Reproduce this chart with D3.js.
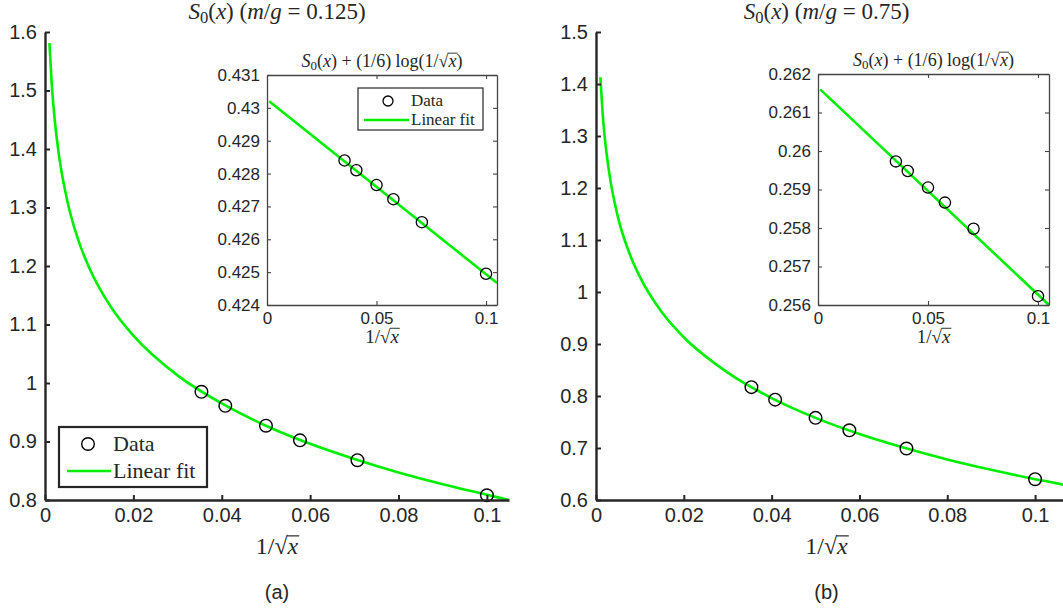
<!DOCTYPE html>
<html>
<head>
<meta charset="utf-8">
<script src="https://cdn.jsdelivr.net/npm/d3@7"></script>
<style>
  body { margin: 0; background: #fff; }
  svg { display: block; }
</style>
</head>
<body>
<div id="chart"></div>
<script>
// 1/sqrt(x) for x = 800, 600, 400, 300, 200, 100
var invSqrt = [0.0354, 0.0408, 0.05, 0.0577, 0.0707, 0.1];

// main panels: S0(x)
var s0A = [0.985, 0.961, 0.927, 0.902, 0.868, 0.808];
var s0B = [0.817, 0.793, 0.758, 0.734, 0.699, 0.640];

// insets: S0(x) + (1/6) log(1/sqrt(x))
var insetA = [0.4284, 0.4281, 0.42765, 0.42722, 0.42652, 0.42495];
var insetB = [0.25973, 0.25948, 0.25905, 0.25866, 0.25798, 0.25623];

// fit curve
var fitT = [0.001, 0.0015, 0.002, 0.003, 0.005, 0.0075, 0.01, 0.015, 0.02, 0.03, 0.04, 0.05, 0.06, 0.07, 0.08, 0.09, 0.1, 0.105, 0.107];
var fitA = [1.581, 1.514, 1.466, 1.398, 1.313, 1.245, 1.197, 1.129, 1.081, 1.013, 0.965, 0.927, 0.896, 0.870, 0.847, 0.827, 0.809, 0.800, 0.797];
var fitB = [1.413, 1.345, 1.297, 1.230, 1.144, 1.077, 1.029, 0.961, 0.913, 0.845, 0.796, 0.758, 0.727, 0.701, 0.678, 0.658, 0.640, 0.632, 0.628];

// inset fit lines (straight)
var insetFitT = [0.001, 0.105];
var insetFitA = [0.43020, 0.42467];
var insetFitB = [0.26160, 0.25600];

// ticks
var mainXTicks = [0, 0.02, 0.04, 0.06, 0.08, 0.1];
var mainYTicksA = [0.8, 0.9, 1, 1.1, 1.2, 1.3, 1.4, 1.5, 1.6];
var mainYTicksB = [0.6, 0.7, 0.8, 0.9, 1, 1.1, 1.2, 1.3, 1.4, 1.5];
var insetXTicks = [0, 0.05, 0.1];
var insetYTicksA = [0.424, 0.425, 0.426, 0.427, 0.428, 0.429, 0.43, 0.431];
var insetYTicksB = [0.256, 0.257, 0.258, 0.259, 0.26, 0.261, 0.262];

var titles = ["m/g = 0.125", "m/g = 0.75"];
var captions = ["(a)", "(b)"];

var W = 1063, H = 609;
var GREEN = "#00ee00", AXIS = "#262626";
var SANS = "'Liberation Sans', Arial, sans-serif";
var SERIF = "'Liberation Serif', 'Times New Roman', serif";

var svg = d3.select("#chart").append("svg")
  .attr("width", W).attr("height", H)
  .style("font-family", SANS);

svg.append("defs").append("clipPath").attr("id", "page")
  .append("rect").attr("width", W).attr("height", H);

// math-ish text built from tspans
function mathText(g, x, y, size, parts) {
  var t = g.append("text")
    .attr("x", x).attr("y", y)
    .attr("text-anchor", "middle")
    .style("font-family", SERIF)
    .style("font-size", size + "px")
    .attr("fill", AXIS);
  parts.forEach(function(p) {
    var s = t.append("tspan").text(p.t);
    if (p.i) s.style("font-style", "italic");
    if (p.sub) s.attr("baseline-shift", "-25%").style("font-size", (size * 0.72) + "px");
  });
  return t;
}

// overline of a square root: from the end of char i (the √) over char i+1
function sqrtBar(g, t, i, size) {
  var n = t.node();
  var r = n.getExtentOfChar(i), xr = n.getExtentOfChar(i + 1);
  g.append("line")
    .attr("x1", r.x + r.width - 0.5).attr("x2", xr.x + xr.width + 1)
    .attr("y1", r.y + size * 0.12).attr("y2", r.y + size * 0.12)
    .attr("stroke", AXIS).attr("stroke-width", size * 0.05);
}

function sqrtLabel(g, x, y, size) {
  var t = mathText(g, x, y, size, [{t: "1/√"}, {t: "x", i: true}]);
  sqrtBar(g, t, 2, size);
}

function insetTitle(g, x, y, size) {
  var t = mathText(g, x, y, size, [
    {t: "S", i: true}, {t: "0", sub: true}, {t: "("}, {t: "x", i: true},
    {t: ") + (1/6) log(1/√"}, {t: "x", i: true}, {t: ")"}
  ]);
  var s = t.node().getNumberOfChars();
  sqrtBar(g, t, s - 3, size);
}

function panel(opt) {
  var g = svg.append("g").attr("clip-path", "url(#page)");

  var x = d3.scaleLinear().domain(opt.xDomain).range(opt.xRange);
  var y = d3.scaleLinear().domain(opt.yDomain).range([500, 32]);

  // fit curve
  var line = d3.line()
    .x(function(d) { return x(d[0]); })
    .y(function(d) { return y(d[1]); })
    .curve(d3.curveMonotoneX);
  g.append("path")
    .datum(d3.zip(fitT, opt.fit).filter(function(d) { return d[0] <= opt.fitMax; }))
    .attr("d", line)
    .attr("fill", "none").attr("stroke", GREEN).attr("stroke-width", 2.6);

  // data markers
  g.selectAll("circle.data")
    .data(d3.zip(invSqrt, opt.data))
    .enter().append("circle")
    .attr("class", "data")
    .attr("cx", function(d) { return x(d[0]); })
    .attr("cy", function(d) { return y(d[1]); })
    .attr("r", 6.3)
    .attr("fill", "none").attr("stroke", "#000").attr("stroke-width", 1.4);

  // axes
  var fmt = function(d) { return String(d); };
  var xa = g.append("g")
    .attr("transform", "translate(0,500)")
    .call(d3.axisBottom(x).tickValues(mainXTicks).tickSize(-5).tickSizeOuter(0).tickPadding(8).tickFormat(fmt));
  var ya = g.append("g")
    .attr("transform", "translate(" + opt.xRange[0] + ",0)")
    .call(d3.axisLeft(y).tickValues(opt.yTicks).tickSize(-5).tickSizeOuter(0).tickPadding(8).tickFormat(fmt));
  [xa, ya].forEach(function(a) {
    a.select(".domain").attr("stroke", AXIS).attr("stroke-width", 2.4);
    a.selectAll(".tick line").attr("stroke", AXIS).attr("stroke-width", 2);
    a.selectAll(".tick text").attr("fill", AXIS).style("font-family", SANS).style("font-size", "20px");
  });

  // title, axis label, caption
  var cx = (opt.xRange[0] + x(0.105)) / 2;
  mathText(g, cx, 19, 23, [
    {t: "S", i: true}, {t: "0", sub: true}, {t: "("}, {t: "x", i: true}, {t: ") ("},
    {t: "m", i: true}, {t: "/"}, {t: "g", i: true}, {t: opt.title.slice(3) + ")"}
  ]);
  sqrtLabel(g, cx, 554, 24);
  g.append("text")
    .attr("x", cx).attr("y", 599)
    .attr("text-anchor", "middle")
    .style("font-size", "20px").attr("fill", AXIS)
    .text(opt.caption);

  // legend
  if (opt.legend) {
    var L = opt.legend;
    g.append("rect")
      .attr("x", L.x).attr("y", L.y).attr("width", L.w).attr("height", L.h)
      .attr("fill", "#fff").attr("stroke", AXIS).attr("stroke-width", 2.2);
    g.append("circle").attr("cx", L.x + 29).attr("cy", L.y + 17).attr("r", 6.3)
      .attr("fill", "none").attr("stroke", "#000").attr("stroke-width", 1.4);
    g.append("line").attr("x1", L.x + 8).attr("x2", L.x + 52)
      .attr("y1", L.y + 44).attr("y2", L.y + 44)
      .attr("stroke", GREEN).attr("stroke-width", 2.6);
    g.append("text").attr("x", L.x + 54).attr("y", L.y + 24)
      .style("font-family", SERIF).style("font-size", "22px").attr("fill", AXIS).text("Data");
    g.append("text").attr("x", L.x + 54).attr("y", L.y + 51)
      .style("font-family", SERIF).style("font-size", "22px").attr("fill", AXIS).text("Linear fit");
  }

  // inset
  var I = opt.inset;
  var ig = g.append("g");
  var ix = d3.scaleLinear().domain([0, 0.105]).range([I.left, I.right]);
  var iy = d3.scaleLinear().domain(I.yDomain).range([I.bottom, I.top]);
  ig.append("rect")
    .attr("x", I.left).attr("y", I.top)
    .attr("width", I.right - I.left).attr("height", I.bottom - I.top)
    .attr("fill", "#fff");

  ig.append("path")
    .datum(d3.zip(insetFitT, I.fit))
    .attr("d", d3.line().x(function(d) { return ix(d[0]); }).y(function(d) { return iy(d[1]); }))
    .attr("fill", "none").attr("stroke", GREEN).attr("stroke-width", 2.6);

  ig.selectAll("circle.data")
    .data(d3.zip(invSqrt, I.data))
    .enter().append("circle")
    .attr("class", "data")
    .attr("cx", function(d) { return ix(d[0]); })
    .attr("cy", function(d) { return iy(d[1]); })
    .attr("r", 5.6)
    .attr("fill", "none").attr("stroke", "#000").attr("stroke-width", 1.3);

  var axes = [
    ig.append("g").attr("transform", "translate(0," + I.bottom + ")")
      .call(d3.axisBottom(ix).tickValues(insetXTicks).tickSize(-4).tickSizeOuter(0).tickPadding(7).tickFormat(fmt)),
    ig.append("g").attr("transform", "translate(0," + I.top + ")")
      .call(d3.axisTop(ix).tickValues(insetXTicks).tickSize(-4).tickSizeOuter(0).tickFormat("")),
    ig.append("g").attr("transform", "translate(" + I.left + ",0)")
      .call(d3.axisLeft(iy).tickValues(I.yTicks).tickSize(-4).tickSizeOuter(0).tickPadding(7).tickFormat(fmt)),
    ig.append("g").attr("transform", "translate(" + I.right + ",0)")
      .call(d3.axisRight(iy).tickValues(I.yTicks).tickSize(-4).tickSizeOuter(0).tickFormat(""))
  ];
  axes.forEach(function(a) {
    a.select(".domain").attr("stroke", "#444").attr("stroke-width", 1.3);
    a.selectAll(".tick line").attr("stroke", "#444").attr("stroke-width", 1.1);
    a.selectAll(".tick text").attr("fill", AXIS).style("font-family", SANS).style("font-size", "17px");
  });

  var icx = (I.left + I.right) / 2;
  insetTitle(ig, icx, I.top - 8, 18);
  sqrtLabel(ig, icx, I.bottom + 38, 19);

  if (I.legend) {
    var l = I.legend;
    ig.append("rect")
      .attr("x", l.x).attr("y", l.y).attr("width", l.w).attr("height", l.h)
      .attr("fill", "#fff").attr("stroke", AXIS).attr("stroke-width", 1.2);
    ig.append("circle").attr("cx", l.x + 30).attr("cy", l.y + 13).attr("r", 5)
      .attr("fill", "none").attr("stroke", "#000").attr("stroke-width", 1.3);
    ig.append("line").attr("x1", l.x + 6).attr("x2", l.x + 51)
      .attr("y1", l.y + 32).attr("y2", l.y + 32)
      .attr("stroke", GREEN).attr("stroke-width", 2.6);
    ig.append("text").attr("x", l.x + 53).attr("y", l.y + 18)
      .style("font-family", SERIF).style("font-size", "17px").attr("fill", AXIS).text("Data");
    ig.append("text").attr("x", l.x + 53).attr("y", l.y + 37)
      .style("font-family", SERIF).style("font-size", "17px").attr("fill", AXIS).text("Linear fit");
  }
}

panel({
  xDomain: [0, 0.105], xRange: [45, 509],
  yDomain: [0.8, 1.6], yTicks: mainYTicksA,
  data: s0A, fit: fitA, fitMax: 0.105,
  title: titles[0], caption: captions[0],
  legend: {x: 59, y: 427, w: 148, h: 60},
  inset: {left: 267, right: 497, top: 75, bottom: 305,
    yDomain: [0.424, 0.431], yTicks: insetYTicksA,
    data: insetA, fit: insetFitA,
    legend: {x: 358, y: 88, w: 125, h: 42}}
});

panel({
  xDomain: [0, 0.11], xRange: [596, 1079],
  yDomain: [0.6, 1.5], yTicks: mainYTicksB,
  data: s0B, fit: fitB, fitMax: 0.107,
  title: titles[1], caption: captions[1],
  legend: null,
  inset: {left: 818, right: 1049, top: 74, bottom: 305,
    yDomain: [0.256, 0.262], yTicks: insetYTicksB,
    data: insetB, fit: insetFitB,
    legend: null}
});
</script>
</body>
</html>
